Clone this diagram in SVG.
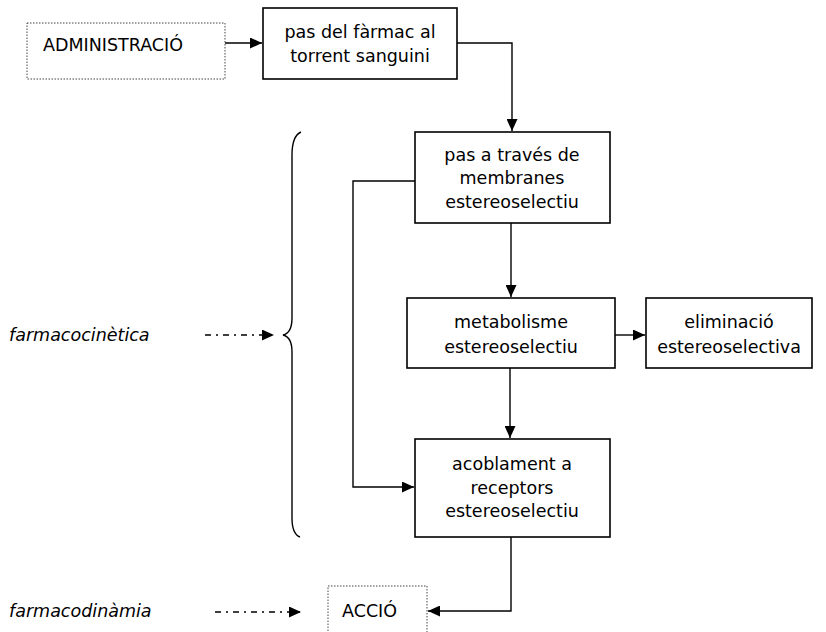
<svg xmlns="http://www.w3.org/2000/svg" width="826" height="632" viewBox="0 0 826 632">
<defs>
<marker id="ah" markerWidth="13" markerHeight="11" refX="12" refY="5.5" orient="auto" markerUnits="userSpaceOnUse">
<path d="M0,0 L12,5.5 L0,11 Z" fill="#000"/>
</marker>
<style>
text{font-family:"DejaVu Sans","Liberation Sans",sans-serif;font-size:17.5px;fill:#000;}
.c{text-anchor:middle;}
.i{font-style:italic;}
.box{fill:#fff;stroke:#000;stroke-width:1.6;}
.dot{fill:#fff;stroke:#444;stroke-width:1;stroke-dasharray:1.5 1.5;}
.ln{fill:none;stroke:#000;stroke-width:1.4;}
.dd{fill:none;stroke:#000;stroke-width:1.5;stroke-dasharray:6 5 2 5;}
</style>
</defs>
<rect width="826" height="632" fill="#fff"/>
<g id="connectors">
<path class="ln" d="M225,43 H262" marker-end="url(#ah)"/>
<path class="ln" d="M457,43 H512 V131" marker-end="url(#ah)"/>
<path class="ln" d="M415,181 H353 V487 H414" marker-end="url(#ah)"/>
<path class="ln" d="M511,223 V297" marker-end="url(#ah)"/>
<path class="ln" d="M615,335 H645" marker-end="url(#ah)"/>
<path class="ln" d="M510,368 V438" marker-end="url(#ah)"/>
<path class="ln" d="M511,537 V611 H428" marker-end="url(#ah)"/>
<path class="dd" d="M205,335 H274" marker-end="url(#ah)"/>
<path class="dd" d="M215,612 H301" marker-end="url(#ah)"/>
<path class="ln" stroke-width="1.8" d="M301,132 Q292,136 292,155 V318 Q292,333 283,335 Q292,337 292,352 V518 Q292,534 300,537"/>
</g>
<g id="administracio">
<rect class="dot" x="27" y="23" width="198" height="56"/>
<text x="43" y="51">ADMINISTRACIÓ</text>
</g>
<g id="torrent">
<rect class="box" x="263" y="8" width="194" height="71"/>
<text class="c" x="360" y="38">pas del fàrmac al</text>
<text class="c" x="360" y="62">torrent sanguini</text>
</g>
<g id="membranes">
<rect class="box" x="415" y="132" width="195" height="91"/>
<text class="c" x="512" y="161">pas a través de</text>
<text class="c" x="512" y="184">membranes</text>
<text class="c" x="512" y="208">estereoselectiu</text>
</g>
<g id="metabolisme">
<rect class="box" x="407" y="298" width="208" height="70"/>
<text class="c" x="511" y="328">metabolisme</text>
<text class="c" x="511" y="353">estereoselectiu</text>
</g>
<g id="eliminacio">
<rect class="box" x="646" y="298" width="166" height="70"/>
<text class="c" x="729" y="328">eliminació</text>
<text class="c" x="729" y="353">estereoselectiva</text>
</g>
<g id="acoblament">
<rect class="box" x="415" y="439" width="195" height="98"/>
<text class="c" x="512" y="470">acoblament a</text>
<text class="c" x="512" y="494">receptors</text>
<text class="c" x="512" y="517">estereoselectiu</text>
</g>
<g id="accio">
<rect class="dot" x="328" y="586" width="99" height="60"/>
<text x="342" y="617">ACCIÓ</text>
</g>
<g id="farmacocinetica">
<text class="i" x="9" y="341">farmacocinètica</text>
</g>
<g id="farmacodinamia">
<text class="i" x="9" y="617">farmacodinàmia</text>
</g>
</svg>
